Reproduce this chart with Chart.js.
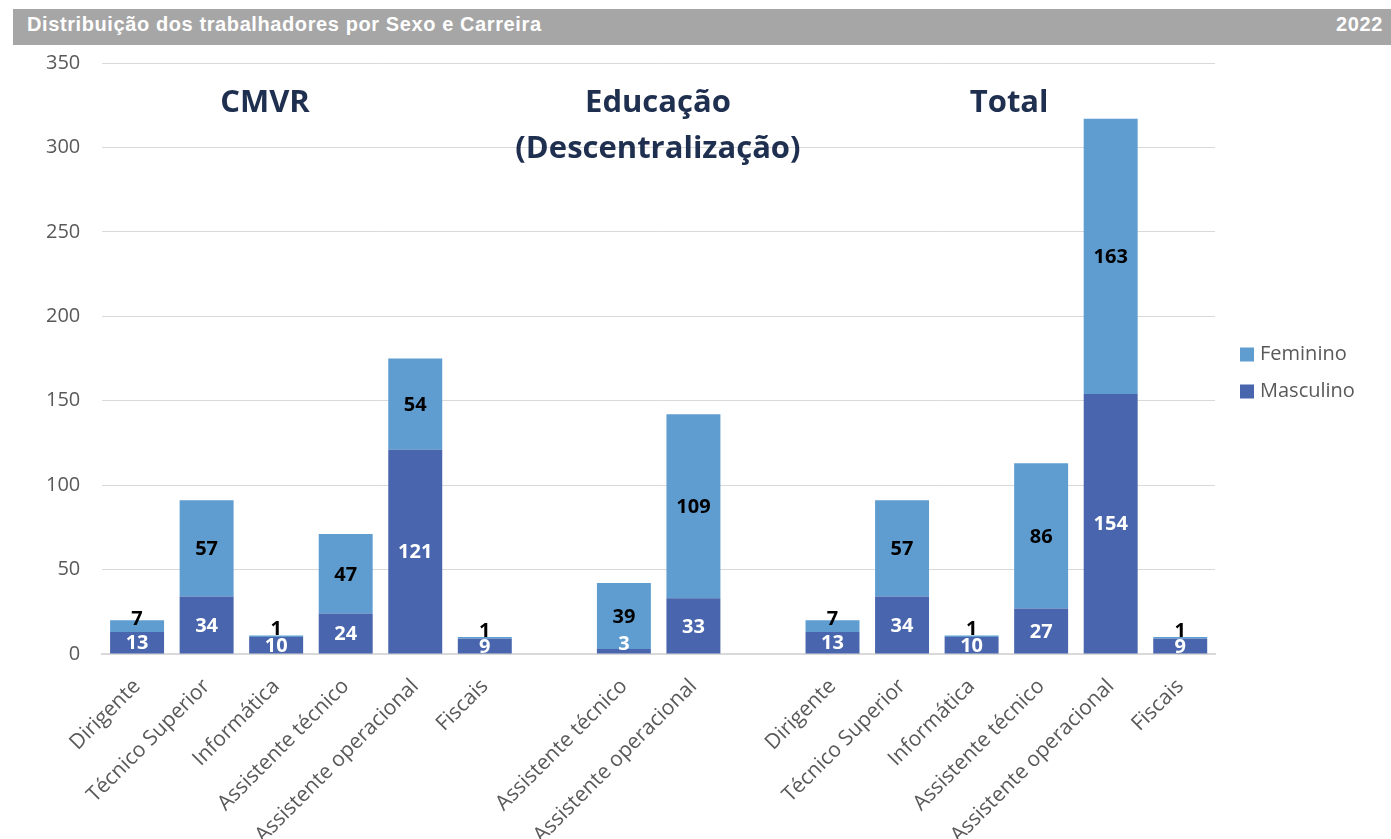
<!DOCTYPE html>
<html>
<head>
<meta charset="utf-8">
<script src="https://cdn.jsdelivr.net/npm/chart.js@4.4.1/dist/chart.umd.min.js"></script>
<style>
  html, body { margin: 0; padding: 0; background: #fff; overflow: hidden; }
  body { width: 1391px; height: 839px; position: relative; }
  #bar {
    position: absolute; left: 13px; top: 9px; width: 1378px; height: 36px;
    background: #a6a6a6; color: #fff; z-index: 2;
    font: bold 20px/20px "Liberation Sans", Arial, sans-serif; letter-spacing: 0.6px;
  }
  #bar .t { position: absolute; left: 14px; top: 5px; }
  #bar .y { position: absolute; right: 8px; top: 5px; }
  #wrap { position: absolute; left: 0; top: 0; width: 1391px; height: 900px; }
</style>
</head>
<body>
<div id="bar"><span class="t">Distribuição dos trabalhadores por Sexo e Carreira</span><span class="y">2022</span></div>
<div id="wrap"><canvas id="chart" width="1391" height="900"></canvas></div>
<script>
const categories = [
    'Dirigente', 'Técnico Superior', 'Informática', 'Assistente técnico', 'Assistente operacional', 'Fiscais',
    '',
    'Assistente técnico', 'Assistente operacional',
    '',
    'Dirigente', 'Técnico Superior', 'Informática', 'Assistente técnico', 'Assistente operacional', 'Fiscais',
];
const masculino = [13, 34, 10, 24, 121, 9, null, 3, 33, null, 13, 34, 10, 27, 154, 9];
const feminino = [7, 57, 1, 47, 54, 1, null, 39, 109, null, 7, 57, 1, 86, 163, 1];
const groupTitles = [['CMVR'], ['Educação', '(Descentralização)'], ['Total']];

const FONT = '"Open Sans", "Noto Sans", sans-serif';
const ctx = document.getElementById('chart').getContext('2d');

// value labels centred in each stacked segment (thin segments get the label nudged up)
const valueLabels = {
    id: 'valueLabels',
    afterDatasetsDraw(chart) {
        const c = chart.ctx;
        c.save();
        c.font = 'bold 20px ' + FONT;
        c.textAlign = 'center';
        c.textBaseline = 'middle';
        chart.data.datasets.forEach((ds, i) => {
            const meta = chart.getDatasetMeta(i);
            meta.data.forEach((bar, j) => {
                const v = ds.data[j];
                if (v == null) return;
                const p = bar.getProps(['x', 'y', 'base'], true);
                const h = Math.abs(p.base - p.y);
                let cy = (p.y + p.base) / 2;
                if (h < 13) cy -= 8;
                c.fillStyle = ds.labelColor;
                c.fillText(String(v), p.x, cy + 1);
            });
        });
        c.restore();
    }
};

// group headings above the bars
const groupHeadings = {
    id: 'groupHeadings',
    afterDraw(chart) {
        const c = chart.ctx;
        const x = chart.scales.x;
        const y = chart.scales.y;
        const spots = [1.84, 7.49, 12.54];
        c.save();
        c.font = 'bold 31px ' + FONT;
        c.fillStyle = '#1f2f4f';
        c.textAlign = 'center';
        c.textBaseline = 'middle';
        groupTitles.forEach((lines, g) => {
            lines.forEach((line, k) => {
                c.fillText(line, x.getPixelForValue(spots[g]), y.getPixelForValue(326) + k * 46);
            });
        });
        c.restore();
    }
};

// legend on the right, Feminino above Masculino
const sideLegend = {
    id: 'sideLegend',
    afterDraw(chart) {
        const c = chart.ctx;
        const a = chart.chartArea;
        const mid = (a.top + a.bottom) / 2;
        const items = chart.data.datasets.slice().reverse();
        c.save();
        c.font = '20px ' + FONT;
        c.textBaseline = 'middle';
        items.forEach((ds, k) => {
            const cy = mid - 4 + k * 37;
            c.fillStyle = ds.backgroundColor;
            c.fillRect(a.right + 25, cy - 7, 14, 14);
            c.fillStyle = '#595959';
            c.fillText(ds.label, a.right + 45, cy);
        });
        c.restore();
    }
};

const chart = new Chart(ctx, {
    type: 'bar',
    data: {
        labels: categories,
        datasets: [
            { label: 'Masculino', data: masculino, backgroundColor: '#4865ad', labelColor: '#ffffff' },
            { label: 'Feminino', data: feminino, backgroundColor: '#5f9dd1', labelColor: '#000000' },
        ],
    },
    options: {
        responsive: false,
        animation: false,
        layout: { padding: { top: 63, left: 24, right: 176, bottom: 40 } },
        datasets: { bar: { categoryPercentage: 1, barPercentage: 0.776, borderWidth: 0 } },
        scales: {
            x: {
                stacked: true,
                grid: { display: false },
                border: { color: '#d9d9d9', width: 2 },
                ticks: {
                    color: '#595959', font: { family: FONT, size: 21 },
                    minRotation: 45, maxRotation: 45, autoSkip: false, padding: 12,
                },
            },
            y: {
                stacked: true,
                min: 0, max: 350,
                grid: { color: '#d9d9d9', drawTicks: false },
                border: { display: false },
                ticks: { stepSize: 50, color: '#595959', font: { family: FONT, size: 20 }, padding: 22 },
            },
        },
        plugins: {
            legend: { display: false },
            tooltip: { enabled: false },
        },
    },
    plugins: [valueLabels, groupHeadings, sideLegend],
});
</script>
</body>
</html>
